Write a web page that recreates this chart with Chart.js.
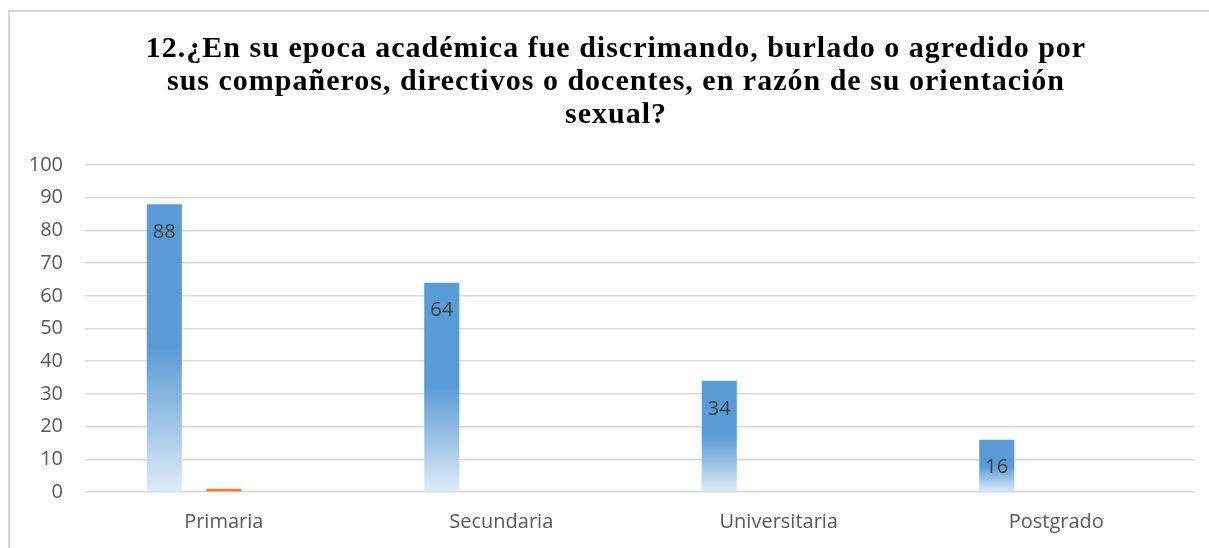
<!DOCTYPE html>
<html>
<head>
<meta charset="utf-8">
<script src="https://cdn.jsdelivr.net/npm/chart.js@4/dist/chart.umd.min.js"></script>
<style>
html,body{margin:0;padding:0;background:#fff;}
#wrap{position:relative;width:1209px;height:548px;}
</style>
</head>
<body>
<div id="wrap"><canvas id="c" width="1209" height="548"></canvas></div>
<script>
const categories = ['Primaria', 'Secundaria', 'Universitaria', 'Postgrado'];
const seriesA = [88, 64, 34, 16];
const seriesB = [1, 0, 0, 0];
const seriesC = [0, 0, 0, 0];
const yTicks = { min: 0, max: 100, step: 10 };
const titleLines = [
  '12.¿En su epoca académica fue discrimando, burlado o agredido por',
  'sus compañeros, directivos o docentes, en razón de su orientación',
  'sexual?'
];

function blueGradient(ctx) {
  const chart = ctx.chart;
  if (!chart.chartArea || ctx.type !== 'data') return '#5B9BD5';
  const y = chart.scales.y;
  const top = y.getPixelForValue(ctx.raw);
  const bot = y.getPixelForValue(0);
  if (!isFinite(top) || !isFinite(bot) || bot - top < 1) return '#5B9BD5';
  const g = chart.ctx.createLinearGradient(0, top, 0, bot);
  g.addColorStop(0, '#5B9BD5');
  g.addColorStop(0.5, '#5B9BD5');
  g.addColorStop(1, '#DEEBF7');
  return g;
}

const framePlugin = {
  id: 'frame',
  beforeDraw(chart) {
    const c = chart.ctx;
    c.save();
    c.fillStyle = '#fff';
    c.fillRect(0, 0, chart.width, chart.height);
    c.strokeStyle = '#d9d9d9';
    c.lineWidth = 2;
    c.strokeRect(9, 11, chart.width + 20, chart.height + 20);
    c.restore();
  },
  afterDraw(chart) {
    const c = chart.ctx;
    c.save();
    c.fillStyle = '#000';
    c.font = 'bold 30px "Liberation Serif"';
    if ('letterSpacing' in c) c.letterSpacing = '1px';
    c.textAlign = 'center';
    c.textBaseline = 'alphabetic';
    titleLines.forEach((t, i) => c.fillText(t, 616, 57 + i * 33));
    c.restore();
  }
};

const labelPlugin = {
  id: 'vlabels',
  afterDatasetsDraw(chart) {
    const c = chart.ctx;
    const meta = chart.getDatasetMeta(0);
    c.save();
    c.fillStyle = '#404040';
    c.font = '20px "Open Sans"';
    c.textAlign = 'center';
    c.textBaseline = 'middle';
    meta.data.forEach((bar, i) => {
      c.fillText(String(seriesA[i]), bar.x, bar.y + 28);
    });
    c.restore();
  }
};

new Chart(document.getElementById('c'), {
  type: 'bar',
  data: {
    labels: categories,
    datasets: [
      { data: seriesA, backgroundColor: blueGradient, borderWidth: 0 },
      { data: seriesB, backgroundColor: '#ED7D31', borderWidth: 0 },
      { data: seriesC, backgroundColor: '#A5A5A5', borderWidth: 0 }
    ]
  },
  options: {
    responsive: false,
    animation: false,
    events: [],
    layout: { padding: { left: 0, right: 14, top: 165, bottom: 0 } },
    datasets: { bar: { categoryPercentage: 0.643, barPercentage: 0.59 } },
    plugins: {
      legend: { display: false },
      tooltip: { enabled: false },
      title: { display: false }
    },
    scales: {
      x: {
        grid: { display: false, drawTicks: false },
        border: { display: false },
        ticks: { color: '#595959', font: { family: '"Open Sans"', size: 20 }, padding: 18 },
        afterFit(s) { s.height = 56; }
      },
      y: {
        min: yTicks.min, max: yTicks.max,
        grid: { color: '#d9d9d9', lineWidth: 1.5, drawTicks: false },
        border: { display: false },
        ticks: { stepSize: yTicks.step, color: '#595959', font: { family: '"Open Sans"', size: 20 }, padding: 22 },
        afterFit(s) { s.width = 85; }
      }
    }
  },
  plugins: [framePlugin, labelPlugin]
});
</script>
</body>
</html>
